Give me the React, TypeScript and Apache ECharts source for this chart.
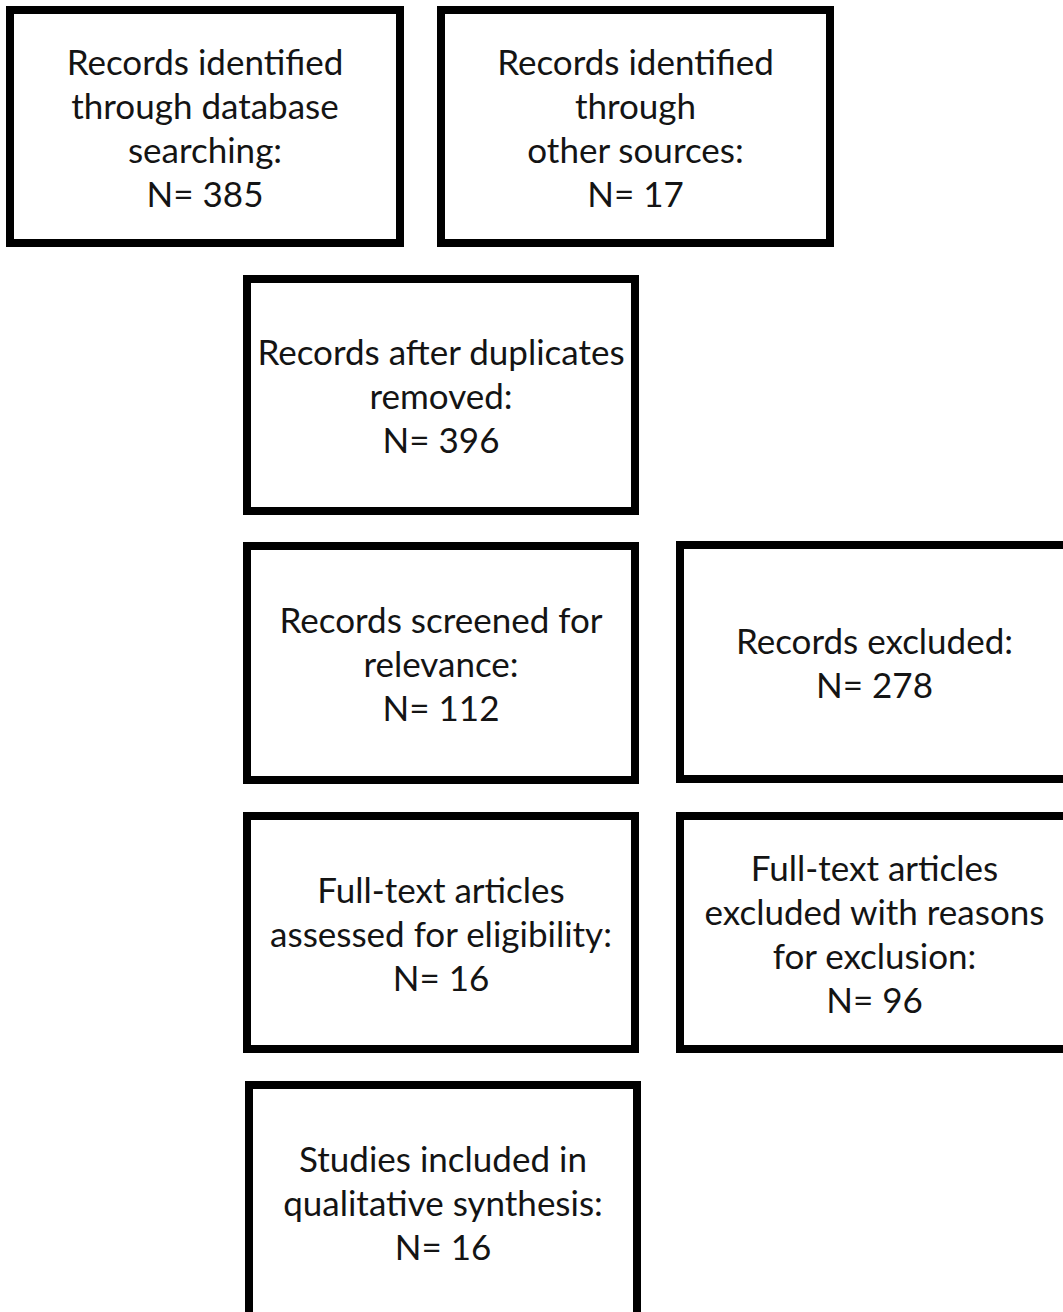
import React, { useEffect, useRef } from "react";
import * as echarts from "echarts";

// ---- data ----
const boxLabels: string[][] = [
  ["Records identified", "through database", "searching:"],
  ["Records identified", "through", "other sources:"],
  ["Records after duplicates", "removed:"],
  ["Records screened for", "relevance:"],
  ["Records excluded:"],
  ["Full-text articles", "assessed for eligibility:"],
  ["Full-text articles", "excluded with reasons", "for exclusion:"],
  ["Studies included in", "qualitative synthesis:"],
];
const boxCounts: number[] = [385, 17, 396, 112, 278, 16, 96, 16];

// ---- layout (outer edges: x, y, width, height) ----
const boxLayout: number[][] = [
  [6, 6, 398, 241],
  [437, 6, 397, 241],
  [243, 275, 396, 240],
  [243, 542, 396, 242],
  [676, 541, 397, 242],
  [243, 812, 396, 241],
  [676, 812, 397, 241],
  [245, 1081, 396, 241],
];

const BORDER = 8;
const FONT = "Lato, 'Open Sans', sans-serif";
const FONT_SIZE = 35;
const LINE_H = 44;

export default function App() {
  const ref = useRef<HTMLDivElement>(null);
  useEffect(() => {
    if (!ref.current) return;
    const chart = echarts.init(ref.current, undefined, { renderer: "svg" });
    const graphic: any[] = [];
    boxLayout.forEach((b, i) => {
      const [x, y, w, h] = b;
      graphic.push({
        type: "rect",
        shape: {
          x: x + BORDER / 2,
          y: y + BORDER / 2,
          width: w - BORDER,
          height: h - BORDER,
        },
        style: { fill: "#ffffff", stroke: "#000000", lineWidth: BORDER },
        z: 1,
      });
      const text = [...boxLabels[i], `N= ${boxCounts[i]}`].join("\n");
      graphic.push({
        type: "text",
        x: x + w / 2,
        y: y + h / 2,
        z: 2,
        style: {
          text,
          fill: "#141414",
          font: `${FONT_SIZE}px ${FONT}`,
          fontFamily: FONT,
          fontSize: FONT_SIZE,
          lineHeight: LINE_H,
          align: "center",
          verticalAlign: "middle",
        },
      });
    });
    chart.setOption({
      animation: false,
      backgroundColor: "#ffffff",
      graphic,
    });
    return () => chart.dispose();
  }, []);
  return (
    <div
      ref={ref}
      style={{
        position: "fixed",
        left: 0,
        top: 0,
        width: 1063,
        height: 1312,
        background: "#fff",
      }}
    />
  );
}
